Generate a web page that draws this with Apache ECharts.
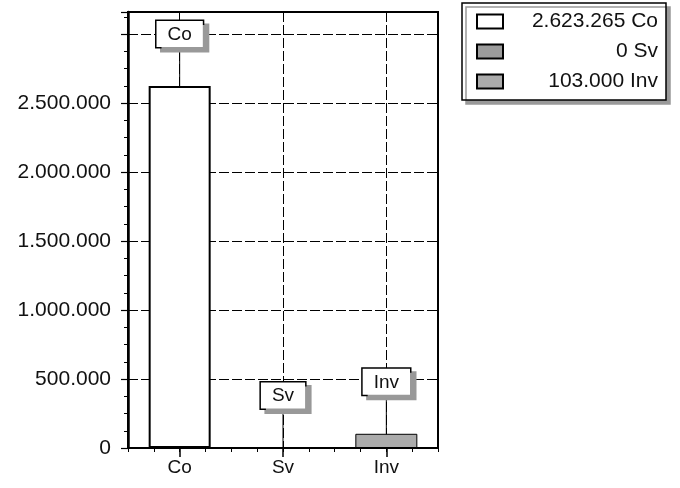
<!DOCTYPE html>
<html>
<head>
<meta charset="utf-8">
<script src="https://cdn.jsdelivr.net/npm/echarts@6/dist/echarts.min.js"></script>
<style>
html,body{margin:0;padding:0;background:#fff;}
#c{width:680px;height:488px;}
</style>
</head>
<body>
<div id="c"></div>
<script>
var categories = ['Co', 'Sv', 'Inv'];
var values = [2623265, 0, 103000];
var barColors = ['#ffffff', '#9c9c9c', '#ababab'];
var yTickLabels = [0, 500000, 1000000, 1500000, 2000000, 2500000];

function fmt(n) {
  return String(n).replace(/\B(?=(\d{3})+(?!\d))/g, '.');
}

var FONT = 'Liberation Sans, Arial, sans-serif';

var series = categories.map(function (name, i) {
  var d = categories.map(function (c, j) { return j === i ? values[i] : '-'; });
  return {
    name: name,
    type: 'bar',
    stack: 'all',
    barWidth: 62,
    data: d,
    itemStyle: {
      color: barColors[i],
      borderColor: '#000',
      borderWidth: i === 0 ? 2 : 1
    },
    label: {
      show: true,
      position: 'top',
      distance: 2,
      formatter: function () { return name; },
      fontFamily: FONT,
      fontSize: 19,
      color: '#111',
      backgroundColor: '#fff',
      borderColor: '#000',
      borderWidth: 1.5,
      padding: [4, 11, 3, 11],
      shadowColor: '#999',
      shadowBlur: 0,
      shadowOffsetX: 5,
      shadowOffsetY: 4
    },
    labelLayout: { dy: -37 },
    labelLine: { show: true, lineStyle: { color: '#000', width: 1 } }
  };
});

var chart = echarts.init(document.getElementById('c'), null, { renderer: 'canvas' });
chart.setOption({
  animation: false,
  backgroundColor: '#fff',
  grid: {
    left: 128, right: 242, top: 12, bottom: 40,
    show: true, borderColor: '#000', borderWidth: 2, backgroundColor: 'transparent'
  },
  legend: {
    orient: 'vertical',
    left: 462, top: 3,
    data: categories,
    icon: 'rect',
    itemWidth: 26, itemHeight: 14, itemGap: 9,
    padding: [8, 8, 8, 14],
    backgroundColor: '#fff',
    borderColor: '#000',
    borderWidth: 1.5,
    shadowColor: '#999',
    shadowBlur: 0,
    shadowOffsetX: 4,
    shadowOffsetY: 4,
    formatter: function (name) {
      var i = categories.indexOf(name);
      return '{v|' + fmt(values[i]) + ' ' + name + '}';
    },
    textStyle: {
      rich: { v: { fontFamily: FONT, fontSize: 21, color: '#111', width: 150, align: 'right', lineHeight: 22 } }
    }
  },
  xAxis: [{
    type: 'category',
    data: categories,
    axisLine: { show: true, lineStyle: { color: '#000', width: 2 } },
    axisTick: { show: true, alignWithLabel: true, length: 9, lineStyle: { color: '#000', width: 1.5 } },
    axisLabel: { fontFamily: FONT, fontSize: 19, color: '#111', margin: 10 },
    splitLine: { show: true, alignWithLabel: true, lineStyle: { color: '#000', width: 1, type: [10, 3] } }
  }, {
    type: 'value',
    min: 0, max: 3, interval: 0.25,
    position: 'bottom',
    axisLine: { show: false },
    axisTick: { show: true, length: 4, lineStyle: { color: '#000', width: 1 } },
    axisLabel: { show: false },
    splitLine: { show: false }
  }],
  yAxis: {
    type: 'value',
    min: 0, max: 3160000, interval: 500000,
    axisLine: { show: true, lineStyle: { color: '#000', width: 2.5 } },
    axisTick: { show: true, length: 7, lineStyle: { color: '#000', width: 1.2 } },
    minorTick: { show: true, splitNumber: 4, length: 4, lineStyle: { color: '#000', width: 1 } },
    axisLabel: {
      fontFamily: FONT, fontSize: 21, color: '#111', margin: 17,
      showMaxLabel: false,
      formatter: function (v) { return yTickLabels.indexOf(v) >= 0 ? fmt(v) : ''; }
    },
    splitLine: { show: true, lineStyle: { color: '#000', width: 1, type: [10, 3] } }
  },
  series: series
});
</script>
</body>
</html>
